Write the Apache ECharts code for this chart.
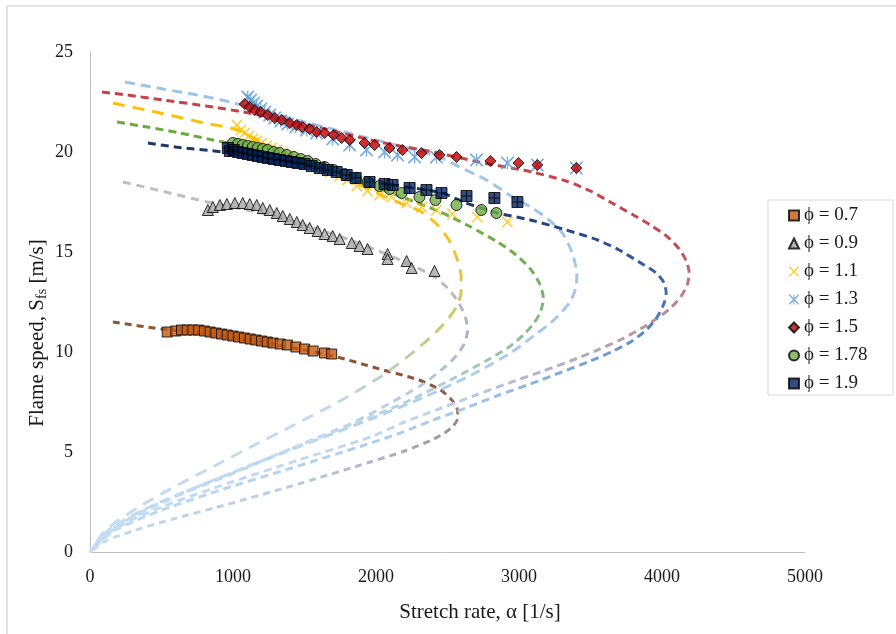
<!DOCTYPE html>
<html>
<head>
<meta charset="utf-8">
<script src="https://cdn.jsdelivr.net/npm/echarts@6/dist/echarts.min.js"></script>
<style>
  html, body { margin: 0; padding: 0; background: #ffffff; }
  #chart { width: 896px; height: 634px; }
</style>
</head>
<body>
<div id="chart"></div>
<script>
// Axis ticks
const xTicks = [0, 1000, 2000, 3000, 4000, 5000];
const yTicks = [0, 5, 10, 15, 20, 25];

// Legend labels (equivalence ratio)
const phiNames = ['ϕ = 0.7', 'ϕ = 0.9', 'ϕ = 1.1', 'ϕ = 1.3', 'ϕ = 1.5', 'ϕ = 1.78', 'ϕ = 1.9'];

// Measured flame speed vs stretch rate, [stretch rate 1/s, speed m/s]
const phi07 = [[540,11.0],[600,11.05],[640,11.1],[680,11.1],[720,11.1],[760,11.1],[800,11.05],[840,11.0],[880,10.95],[920,10.9],[960,10.85],[1000,10.8],[1040,10.75],[1080,10.7],[1120,10.65],[1160,10.6],[1200,10.55],[1240,10.5],[1280,10.45],[1330,10.4],[1380,10.35],[1440,10.25],[1500,10.15],[1560,10.05],[1640,9.95],[1690,9.9]];
const phi09 = [[824,17.1],[859,17.25],[908,17.35],[957,17.4],[1013,17.45],[1068,17.45],[1117,17.4],[1166,17.35],[1208,17.2],[1257,17.1],[1306,16.95],[1348,16.8],[1397,16.65],[1446,16.5],[1487,16.35],[1536,16.2],[1592,16.05],[1641,15.9],[1697,15.8],[1746,15.65],[1830,15.45],[1885,15.3],[1941,15.15],[2081,14.9],[2081,14.65],[2214,14.55],[2249,14.2],[2409,14.05]];
const phi11 = [[1027,21.35],[1055,21.1],[1082,20.95],[1110,20.8],[1138,20.65],[1166,20.55],[1201,20.45],[1236,20.3],[1271,20.2],[1306,20.1],[1348,19.95],[1397,19.8],[1446,19.65],[1501,19.5],[1557,19.35],[1620,19.15],[1683,19.0],[1746,18.8],[1802,18.6],[1865,18.3],[1941,18.05],[2025,17.85],[2109,17.75],[2214,17.45],[2318,17.25],[2423,17.1],[2535,16.9],[2709,16.75],[2919,16.5]];
const phi13 = [[1103,22.75],[1124,22.6],[1145,22.45],[1166,22.3],[1194,22.15],[1222,22.0],[1257,21.85],[1292,21.7],[1334,21.55],[1383,21.4],[1439,21.25],[1515,21.1],[1585,20.95],[1697,20.65],[1816,20.35],[1934,20.1],[2060,20.0],[2151,19.85],[2270,19.75],[2423,19.75],[2703,19.6],[2919,19.45],[3128,19.35],[3401,19.2]];
const phi15 = [[1082,22.4],[1117,22.25],[1152,22.1],[1194,22.0],[1243,21.85],[1292,21.7],[1341,21.6],[1397,21.45],[1446,21.35],[1487,21.25],[1536,21.15],[1585,21.0],[1641,20.95],[1704,20.85],[1760,20.7],[1816,20.6],[1920,20.45],[1990,20.35],[2095,20.2],[2186,20.1],[2318,19.95],[2444,19.85],[2563,19.75],[2800,19.55],[2996,19.45],[3128,19.35],[3401,19.2]];
const phi178 = [[999,20.45],[1034,20.4],[1068,20.35],[1103,20.3],[1138,20.25],[1173,20.2],[1208,20.15],[1243,20.1],[1285,20.0],[1327,19.95],[1376,19.85],[1425,19.75],[1473,19.65],[1522,19.55],[1578,19.4],[1641,19.25],[1704,19.1],[1781,18.9],[1858,18.7],[1941,18.5],[2025,18.3],[2095,18.15],[2179,17.95],[2304,17.75],[2416,17.6],[2563,17.35],[2737,17.1],[2842,16.95]];
const phi19 = [[964,20.2],[978,20.05],[1006,20.1],[1034,20.0],[1068,19.95],[1103,19.9],[1138,19.85],[1173,19.8],[1208,19.75],[1243,19.7],[1285,19.65],[1327,19.6],[1369,19.55],[1411,19.5],[1453,19.45],[1501,19.4],[1550,19.3],[1606,19.2],[1662,19.1],[1725,19.0],[1795,18.85],[1858,18.7],[1955,18.5],[2060,18.4],[2116,18.35],[2235,18.2],[2353,18.1],[2458,17.95],[2633,17.8],[2828,17.7],[2989,17.5]];

// Fitted curves (upper branch, turning point, lower branch back to the origin)
const fit07 = [[160,11.5],[500,11.15],[800,10.95],[1200,10.5],[1700,9.8],[2000,9.2],[2300,8.6],[2450,8.1],[2530,7.6],[2570,7.1],[2572,6.7],[2540,6.3],[2480,5.95],[2390,5.6],[2200,5.05],[1960,4.5],[1480,3.45],[920,2.3],[580,1.65],[330,1.12],[110,0.55],[0,0]];
const fit09 = [[230,18.5],[500,18.05],[820,17.5],[1200,16.95],[1500,16.35],[1800,15.65],[2000,15.1],[2200,14.5],[2400,13.8],[2500,13.2],[2575,12.5],[2625,11.75],[2640,11.1],[2620,10.45],[2565,9.85],[2490,9.3],[2320,8.35],[2100,7.45],[1850,6.5],[1550,5.6],[1240,4.65],[920,3.7],[610,2.8],[330,1.85],[110,0.95],[0,0]];
const fit11 = [[160,22.45],[490,21.95],[800,21.45],[1030,21.1],[1300,20.1],[1600,19.2],[1900,18.3],[2150,17.5],[2320,17.0],[2430,16.35],[2510,15.6],[2565,14.7],[2595,13.8],[2595,13.0],[2565,12.3],[2510,11.7],[2420,11.0],[2280,10.1],[2050,8.85],[1760,7.6],[1440,6.4],[1110,5.2],[870,4.3],[600,3.3],[330,2.2],[110,1.1],[0,0]];
const fit13 = [[245,23.5],[510,23.15],[750,22.85],[980,22.5],[1500,21.5],[2000,20.6],[2444,19.75],[2584,19.25],[2772,18.6],[2954,17.75],[3094,17.2],[3210,16.6],[3303,15.95],[3355,15.25],[3390,14.5],[3405,13.8],[3395,13.15],[3360,12.55],[3300,12.0],[3220,11.45],[3120,10.9],[2940,9.95],[2680,8.9],[2370,7.85],[2000,6.75],[1600,5.65],[1200,4.55],[800,3.4],[430,2.3],[140,1.15],[0,0]];
const fit15 = [[84,23.0],[258,22.85],[510,22.6],[860,22.25],[1070,22.0],[1470,21.45],[2025,20.5],[2400,20.0],[2720,19.5],[3090,19.0],[3330,18.55],[3500,18.05],[3650,17.45],[3800,16.85],[3930,16.3],[4040,15.75],[4120,15.15],[4170,14.55],[4190,13.95],[4176,13.35],[4130,12.75],[4060,12.2],[3970,11.7],[3860,11.2],[3720,10.65],[3550,10.1],[3360,9.55],[3150,9.0],[2930,8.45],[2700,7.85],[2460,7.2],[2200,6.5],[1960,5.75],[1460,4.6],[970,3.45],[520,2.3],[170,1.15],[0,0]];
const fit178 = [[189,21.5],[400,21.25],[630,20.95],[860,20.6],[1000,20.4],[1300,19.9],[1600,19.3],[1900,18.5],[2200,17.7],[2450,17.0],[2650,16.3],[2850,15.5],[2980,14.85],[3080,14.15],[3145,13.4],[3170,12.7],[3150,12.0],[3100,11.4],[3030,10.85],[2940,10.3],[2780,9.6],[2520,8.6],[2210,7.5],[1860,6.45],[1490,5.4],[1110,4.3],[730,3.2],[400,2.15],[130,1.05],[0,0]];
const fit19 = [[405,20.45],[600,20.25],[930,20.0],[1300,19.6],[1700,19.05],[2100,18.4],[2460,17.95],[2630,17.45],[2850,16.95],[3080,16.6],[3330,16.1],[3550,15.6],[3700,15.1],[3840,14.5],[3960,13.95],[4015,13.45],[4029,12.95],[4015,12.45],[3966,11.75],[3890,11.1],[3790,10.55],[3660,10.05],[3500,9.55],[3300,9.0],[3080,8.4],[2860,7.85],[2630,7.2],[2400,6.6],[2170,5.95],[1900,5.3],[1410,4.2],[935,3.15],[505,2.1],[165,1.05],[0,0]];

const serif = '"Liberation Serif", "Times New Roman", serif';
const paleBlue = '#C5DDF2';

function vGrad(stops) {
  return {
    type: 'linear', x: 0, y: 0, x2: 0, y2: 1,
    colorStops: stops.map(s => ({ offset: s[0], color: s[1] }))
  };
}

function curve(name, data, stops, dash) {
  return {
    name: name,
    type: 'line',
    data: data,
    smooth: 0.25,
    showSymbol: false,
    symbol: 'none',
    silent: true,
    z: 1,
    lineStyle: { width: 3, type: dash, color: vGrad(stops), cap: 'butt' }
  };
}

const xMark = 'path://M0,0L2,0L10,8L18,0L20,0L20,2L12,10L20,18L20,20L18,20L10,12L2,20L0,20L0,18L8,10L0,2Z';
const starMark = 'path://M0,0L2,0L10,8L18,0L20,0L20,2L12,10L20,18L20,20L18,20L10,12L2,20L0,20L0,18L8,10L0,2Z M9,0L11,0L11,20L9,20Z';
const plusMark = 'path://M9,0L11,0L11,9L20,9L20,11L11,11L11,20L9,20L9,11L0,11L0,9L9,9Z';

function points(name, data, symbol, size, color, border) {
  return {
    name: name,
    type: 'scatter',
    data: data,
    symbol: symbol,
    symbolSize: size,
    z: 3,
    itemStyle: border
      ? { color: color, borderColor: '#000000', borderWidth: 1 }
      : { color: color, borderWidth: 0 }
  };
}

const chart = echarts.init(document.getElementById('chart'), null, { renderer: 'canvas' });

chart.setOption({
  animation: false,
  backgroundColor: '#ffffff',
  grid: { left: 90, right: 91, top: 52, bottom: 82, containLabel: false },
  xAxis: {
    type: 'value',
    min: xTicks[0], max: xTicks[xTicks.length - 1], interval: xTicks[1] - xTicks[0],
    axisLine: { show: true, lineStyle: { color: '#BFBFBF', width: 1 } },
    axisTick: { show: false },
    splitLine: { show: false },
    axisLabel: { color: '#1a1a1a', fontFamily: serif, fontSize: 18, margin: 16,
                 formatter: v => String(v) }
  },
  yAxis: {
    type: 'value',
    min: yTicks[0], max: yTicks[yTicks.length - 1], interval: yTicks[1] - yTicks[0],
    axisLine: { show: true, lineStyle: { color: '#BFBFBF', width: 1 } },
    axisTick: { show: false },
    splitLine: { show: false },
    axisLabel: { color: '#1a1a1a', fontFamily: serif, fontSize: 18, margin: 17,
                 formatter: v => String(v) }
  },
  legend: {
    data: phiNames,
    orient: 'vertical',
    left: 788,
    top: 206,
    padding: 0,
    itemGap: 9,
    itemWidth: 10,
    itemHeight: 10,
    textStyle: { color: '#1a1a1a', fontFamily: serif, fontSize: 19, lineHeight: 18 },
    selectedMode: false
  },
  graphic: [
    { type: 'rect', silent: true, z: -10, shape: { x: 7, y: 6, width: 900, height: 640 },
      style: { fill: 'none', stroke: '#D9D9D9', lineWidth: 1.5 } },
    { type: 'rect', silent: true, z: 10, shape: { x: 768, y: 200, width: 125, height: 195 },
      style: { fill: 'none', stroke: '#D9D9D9', lineWidth: 1 } },
    { type: 'text', silent: true, x: 480, y: 612,
      style: { text: 'Stretch rate, α [1/s]', font: '21px ' + serif, fill: '#1a1a1a',
               align: 'center', verticalAlign: 'middle' } },
    { type: 'text', silent: true, x: 37, y: 333, rotation: Math.PI / 2,
      style: {
        text: '{a|Flame speed, S}{b|fs}{a| [m/s]}',
        align: 'center', verticalAlign: 'middle',
        rich: {
          a: { font: '21px ' + serif, fill: '#1a1a1a' },
          b: { font: '14px ' + serif, fill: '#1a1a1a', padding: [10, 0, 0, 0] }
        }
      } }
  ],
  series: [
    curve('fit 0.7', fit07, [[0,'#8B5638'],[0.28,'#8B5638'],[0.42,'#9C8580'],[0.55,'#A8A8B4'],[0.7,'#B9CDE3'],[1,paleBlue]], [7,5]),
    curve('fit 0.9', fit09, [[0,'#BFBFBF'],[0.3,'#BCBCBC'],[0.42,'#A9B5C6'],[0.6,'#BAD1E8'],[1,paleBlue]], [8,6]),
    curve('fit 1.1', fit11, [[0,'#FFC000'],[0.28,'#FCC21A'],[0.4,'#DCC555'],[0.5,'#CAC874'],[0.6,'#BCD0C2'],[0.68,'#C2D9EE'],[1,paleBlue]], [12,8]),
    curve('fit 1.3', fit13, [[0,'#9DC3E6'],[0.5,'#A6C8E8'],[1,paleBlue]], [10,6]),
    curve('fit 1.5', fit15, [[0,'#C4414A'],[0.33,'#C24A52'],[0.42,'#BE7585'],[0.5,'#B8929F'],[0.6,'#B5B0C8'],[0.7,'#C0D6EE'],[1,paleBlue]], [8,5]),
    curve('fit 1.78', fit178, [[0,'#6AAA3E'],[0.3,'#70AD47'],[0.42,'#7DB47C'],[0.52,'#92C0A0'],[0.62,'#B0D0D8'],[0.72,'#C2DAF0'],[1,paleBlue]], [8,5]),
    curve('fit 1.9', fit19, [[0,'#1F3864'],[0.15,'#1F3864'],[0.25,'#2E4F8F'],[0.35,'#3F68B0'],[0.45,'#5080C4'],[0.55,'#7CA8DA'],[0.65,'#A8CAEB'],[1,paleBlue]], [8,5]),

    points(phiNames[0], phi07, 'rect', 10, '#C55A11', true),
    points(phiNames[1], phi09, 'triangle', 11, '#A5A5A5', true),
    points(phiNames[2], phi11, xMark, 11, '#FFC000', false),
    points(phiNames[3], phi13, starMark, 13, '#5B9BD5', false),
    points(phiNames[4], phi15, 'diamond', 11, '#C00000', true),
    points(phiNames[5], phi178, 'circle', 11, '#70AD47', true),
    points(phiNames[6], phi19, 'rect', 11, '#002060', true),
    Object.assign(points(phiNames[6], phi19, plusMark, 11, '#000000', false), { z: 4 })
  ]
});
</script>
</body>
</html>
